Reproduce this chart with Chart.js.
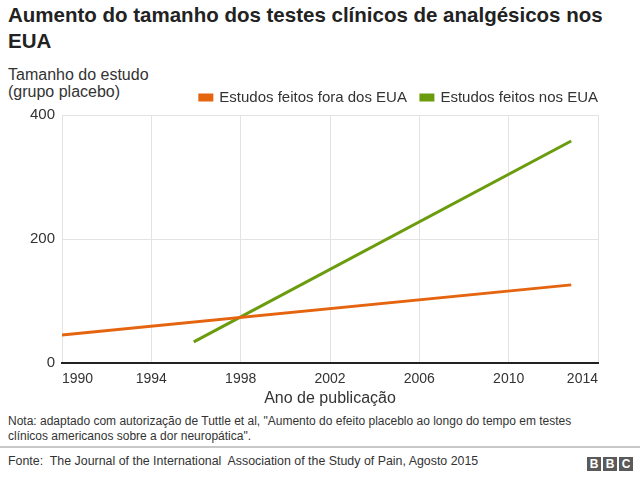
<!DOCTYPE html>
<html lang="pt">
  <head>
    <meta charset="UTF-8" />
    <title>Aumento do tamanho dos testes clínicos</title>
    <style>
      body { margin: 0; width: 640px; height: 478px; background: #fff; font-family: "Liberation Sans", Arial, sans-serif; color: #222; position: relative; overflow: hidden; }
      #title { position: absolute; left: 8px; top: 2px; width: 630px; font-size: 20.5px; font-weight: bold; line-height: 26px; }
      #ytitle { position: absolute; left: 8px; top: 66px; font-size: 16px; line-height: 17px; color: #333; }
      #box { position: absolute; left: 0; top: 0; width: 640px; height: 412px; }
      #note { position: absolute; left: 8px; top: 414px; font-size: 12px; line-height: 15px; color: #333; }
      #sep { position: absolute; left: 0; top: 446px; width: 640px; height: 2px; background: #c8c8c8; }
      #source { position: absolute; left: 8px; top: 454px; font-size: 12.4px; color: #333; }
      #bbc { position: absolute; left: 587px; top: 454px; }
      #bbc span { display: inline-block; width: 14px; height: 14px; margin-right: 2px; background: #5a5a5a; color: #fff; font-size: 12px; font-weight: bold; line-height: 14px; text-align: center; }
    </style>
  </head>
  <body>
    <div id="title">Aumento do tamanho dos testes clínicos de analgésicos nos<br />EUA</div>
    <div id="ytitle">Tamanho do estudo<br />(grupo placebo)</div>
    <div id="box"><canvas id="myChart"></canvas></div>
    <div id="note">Nota: adaptado com autorização de Tuttle et al, "Aumento do efeito placeblo ao longo do tempo em testes<br />clínicos americanos sobre a dor neuropática".</div>
    <div id="sep"></div>
    <div id="source">Fonte:&nbsp; The Journal of the International&nbsp; Association of the Study of Pain, Agosto 2015</div>
    <div id="bbc"><span>B</span><span>B</span><span>C</span></div>

    <script src="https://cdn.jsdelivr.net/npm/chart.js"></script>
    <script>
      const seriesNames = ["Estudos feitos fora dos EUA", "Estudos feitos nos EUA"];
      const foraYears = [1990, 2012.8];
      const foraValues = [45, 126];
      const euaYears = [1995.9, 2012.8];
      const euaValues = [34, 358];
      const xTicks = [1990, 1994, 1998, 2002, 2006, 2010, 2014];
      const yTicks = [0, 200, 400];

      const toPoints = (xs, ys) => xs.map((x, i) => ({ x: x, y: ys[i] }));

      // push the legend flush with the right edge of the plot
      const legendShift = {
        id: "legendShift",
        afterLayout(chart) {
          chart.legend.left += 14;
          chart.legend.right += 14;
        },
      };

      new Chart(document.getElementById("myChart"), {
        type: "line",
        data: {
          datasets: [
            {
              label: seriesNames[0],
              data: toPoints(foraYears, foraValues),
              borderColor: "#e5640f",
              backgroundColor: "#e5640f",
              borderWidth: 3,
              pointRadius: 0,
            },
            {
              label: seriesNames[1],
              data: toPoints(euaYears, euaValues),
              borderColor: "#6a9c0d",
              backgroundColor: "#6a9c0d",
              borderWidth: 3,
              pointRadius: 0,
            },
          ],
        },
        plugins: [legendShift],
        options: {
          responsive: true,
          maintainAspectRatio: false,
          animation: false,
          layout: { padding: { top: 76, right: 42, left: 0, bottom: 0 } },
          plugins: {
            tooltip: { enabled: false },
            legend: {
              position: "top",
              align: "end",
              maxHeight: 40,
              labels: {
                boxWidth: 12,
                boxHeight: 5,
                padding: 14,
                color: "#333",
                font: { family: "Liberation Sans", size: 15 },
              },
            },
          },
          scales: {
            x: {
              type: "linear",
              min: xTicks[0],
              max: xTicks[xTicks.length - 1],
              afterBuildTicks: (scale) => { scale.ticks = xTicks.map((v) => ({ value: v })); },
              afterFit: (scale) => { scale.height = 49; },
              ticks: {
                align: "inner",
                padding: 8,
                color: "#333",
                font: { family: "Liberation Sans", size: 14 },
                callback: (v) => String(v),
              },
              grid: { color: "#e3e3e3", drawTicks: false },
              border: { color: "#222", width: 2 },
              title: {
                display: true,
                text: "Ano de publicação",
                color: "#333",
                padding: { top: 2, bottom: 4 },
                font: { family: "Liberation Sans", size: 16 },
              },
            },
            y: {
              min: yTicks[0],
              max: yTicks[yTicks.length - 1],
              afterBuildTicks: (scale) => { scale.ticks = yTicks.map((v) => ({ value: v })); },
              afterFit: (scale) => { scale.width = 62; },
              ticks: {
                padding: 7,
                color: "#333",
                font: { family: "Liberation Sans", size: 15 },
              },
              grid: { color: "#e3e3e3", drawTicks: false },
              border: { display: false },
            },
          },
        },
      });
    </script>
  </body>
</html>
